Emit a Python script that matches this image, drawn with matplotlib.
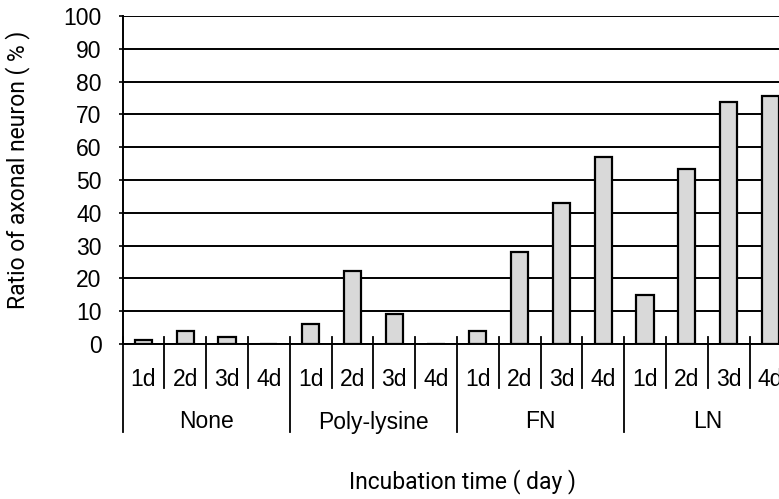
import numpy as np
import matplotlib.pyplot as plt
from matplotlib.transforms import blended_transform_factory

groups = ['None', 'Poly-lysine', 'FN', 'LN']
days = ['1d', '2d', '3d', '4d']
none_vals = [1.2, 4, 2, 0]
poly_vals = [6.2, 22.4, 9, 0]
fn_vals = [4, 28, 43, 57]
ln_vals = [15, 53.3, 73.7, 75.6]

vals = none_vals + poly_vals + fn_vals + ln_vals
n = len(vals)
x = np.arange(n) + 0.5

W, H = 779, 499
fig = plt.figure(figsize=(W / 100, H / 100), dpi=100)
plt.rcParams['font.family'] = ['Liberation Sans', 'DejaVu Sans']

x0, xstep = 122.5, 41.8
ax = fig.add_axes([x0 / W, (H - 344) / H, n * xstep / W, (344 - 16) / H])

ax.bar(x, vals, width=0.41, color='#d9d9d9', edgecolor='black', linewidth=1.6, zorder=3)

ax.set_xlim(0, n)
ax.set_ylim(0, 100)
ax.set_yticks(np.arange(0, 101, 10))
ax.yaxis.grid(True, color='black', linewidth=1.4, zorder=1)
ax.tick_params(axis='y', labelsize=16.5, length=3, width=1.2, pad=12, direction='out')
ax.set_xticks([])
for s in ['top', 'right']:
    ax.spines[s].set_visible(False)
ax.spines['left'].set_linewidth(1.4)
ax.spines['bottom'].set_linewidth(1.4)

# category axis below
tr = blended_transform_factory(ax.transData, fig.transFigure)
fy = lambda py: 1 - py / H
for k in range(n + 1):
    bottom = 432 if k % 4 == 0 else 388
    ax.plot([k, k], [fy(337), fy(bottom)], color='black', lw=1.3,
            transform=tr, clip_on=False, zorder=4)
for i, xi in enumerate(x):
    ax.text(xi, fy(379), days[i % 4], transform=tr, ha='center', va='center', fontsize=16.5)
for g, name in enumerate(groups):
    ax.text(g * 4 + 2, fy(422), name, transform=tr, ha='center', va='center', fontsize=16.5)

lab_font = ['Roboto', 'Liberation Sans']
fig.text(463 / W, fy(482), 'Incubation time ( day )', ha='center', va='center',
         fontsize=16.5, family=lab_font)
fig.text(18 / W, fy(170), 'Ratio of axonal neuron ( % )', ha='center', va='center',
         rotation=90, fontsize=16.5, family=lab_font)

fig.savefig('out.png', dpi=100)
